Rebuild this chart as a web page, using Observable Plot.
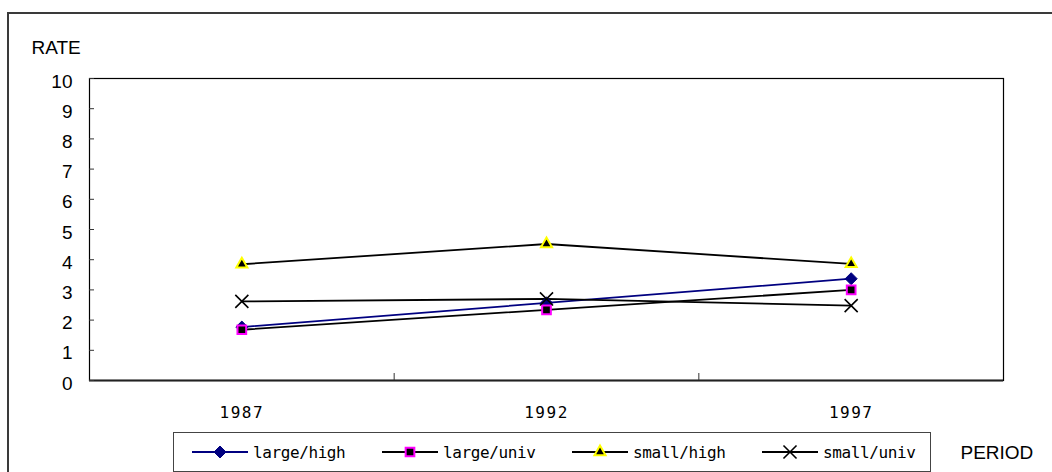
<!DOCTYPE html>
<html>
<head>
<meta charset="utf-8">
<script src="https://cdn.jsdelivr.net/npm/d3@7"></script>
<script src="https://cdn.jsdelivr.net/npm/@observablehq/plot@0.6"></script>
<style>
  html, body { margin: 0; padding: 0; background: #fff; overflow: hidden; }
  #wrap { position: relative; width: 1052px; height: 472px; overflow: hidden; }
  #border { position: absolute; left: 7px; top: 12px; width: 1200px; height: 600px;
            border: 2px solid #3a3a3a; box-sizing: border-box; }
  #chart { position: absolute; left: 0; top: 0; }
  #legend { position: absolute; left: 173px; top: 432px; width: 758px; height: 40px;
            box-sizing: border-box; border: 1px solid #444; background: #fff;
            display: flex; align-items: center; padding-left: 18px; gap: 36.7px;
            font-family: "DejaVu Sans Mono", monospace; font-size: 16px; letter-spacing: -0.4px; color: #000; }
  .item { display: flex; align-items: center; gap: 5px; white-space: nowrap; }
  .item svg { display: block; }
</style>
</head>
<body>
<div id="wrap">
  <div id="border"></div>
  <div id="chart"></div>
  <div id="legend"></div>
</div>
<script>
// Survey periods (x categories)
const periods = [1987, 1992, 1997];

// Rates by firm size / education
const largeHigh = [1.77, 2.57, 3.37];
const largeUniv = [1.68, 2.34, 3.0];
const smallHigh = [3.85, 4.52, 3.86];
const smallUniv = [2.62, 2.70, 2.48];

const seriesNames = ["large/high", "large/univ", "small/high", "small/univ"];
const yTicks = [0, 1, 2, 3, 4, 5, 6, 7, 8, 9, 10];
const yLabel = "RATE";
const xLabel = "PERIOD";

// Drawing style for each series: line colour and marker
const styles = [
  {values: largeHigh, line: "#000080", symbol: "diamond2", r: 5.4, fill: "#000080", stroke: "#000080", sw: 1},
  {values: largeUniv, line: "#000000", symbol: "square", r: 4.9, fill: "#000000", stroke: "#ff00ff", sw: 2},
  {values: smallHigh, line: "#000000", symbol: "triangle", r: 4.1, fill: "#000000", stroke: "#ffff00", sw: 2},
  {values: smallUniv, line: "#000000", symbol: "times", r: 6.0, fill: "none", stroke: "#000000", sw: 1.6}
];

const rows = styles.map(s => periods.map((p, i) => ({period: p, value: s.values[i]})));

// Half the spacing between periods pads the x domain; boundaries sit between periods
const half = (periods[1] - periods[0]) / 2;
const boundaries = periods.slice(1).map((p, i) => (p + periods[i]) / 2);

const seriesMarks = [];
styles.forEach((s, k) => {
  seriesMarks.push(Plot.line(rows[k], {x: "period", y: "value", stroke: s.line, strokeWidth: 1.8}));
});
styles.forEach((s, k) => {
  seriesMarks.push(Plot.dot(rows[k], {
    x: "period", y: "value", symbol: () => s.symbol, r: s.r,
    fill: s.fill, stroke: s.stroke, strokeWidth: s.sw
  }));
});

const chart = Plot.plot({
  width: 1052,
  height: 472,
  marginLeft: 89,
  marginRight: 49,
  marginTop: 78,
  marginBottom: 92,
  style: {background: "transparent", fontFamily: "'Liberation Sans', Arial, sans-serif", overflow: "visible"},
  x: {type: "linear", domain: [periods[0] - half, periods[periods.length - 1] + half]},
  y: {domain: [0, 10]},
  symbol: {type: "identity"},
  marks: [
    Plot.frame({stroke: "#000", strokeWidth: 1.2}),
    Plot.ruleY([0], {stroke: "#222", strokeWidth: 2}),
    Plot.axisY(yTicks, {tickSize: -5, stroke: "#333", tickFormat: () => "", label: null}),
    Plot.axisY(yTicks, {
      tickSize: 0, tickPadding: 17, fontSize: 19, dy: 3,
      tickFormat: d => String(d), label: null
    }),
    Plot.axisX(boundaries, {tickSize: -7, stroke: "#333", tickFormat: () => "", label: null}),
    Plot.axisX(periods, {
      tickSize: 0, tickPadding: 26, fontSize: 16, fontFamily: "'DejaVu Sans Mono', monospace",
      tickFormat: d => String(d), label: null
    }),
    Plot.text([yLabel], {frameAnchor: "top-left", lineAnchor: "middle", dx: -58, dy: -31, textAnchor: "start", fontSize: 19}),
    Plot.text([xLabel], {frameAnchor: "bottom-right", lineAnchor: "middle", dx: -43, dy: 72, textAnchor: "start", fontSize: 19}),
    ...seriesMarks
  ]
});
chart.querySelectorAll("[aria-label='x-axis tick label'] text").forEach(t => t.setAttribute("letter-spacing", "1.5"));
document.getElementById("chart").appendChild(chart);

// Legend: a line with the series marker, then its name
const legend = d3.select("#legend");
styles.forEach((s, k) => {
  const item = legend.append("div").attr("class", "item");
  const svg = item.append("svg").attr("width", 56).attr("height", 20);
  svg.append("line").attr("x1", 0).attr("x2", 56).attr("y1", 10).attr("y2", 10)
    .attr("stroke", s.line).attr("stroke-width", 1.8);
  const symType = {diamond2: d3.symbolDiamond2, square: d3.symbolSquare, triangle: d3.symbolTriangle, times: d3.symbolTimes}[s.symbol];
  svg.append("path")
    .attr("d", d3.symbol(symType, Math.PI * s.r * s.r)())
    .attr("transform", "translate(28,10)")
    .attr("fill", s.fill).attr("stroke", s.stroke).attr("stroke-width", s.sw);
  item.append("span").text(seriesNames[k]);
});
</script>
</body>
</html>
